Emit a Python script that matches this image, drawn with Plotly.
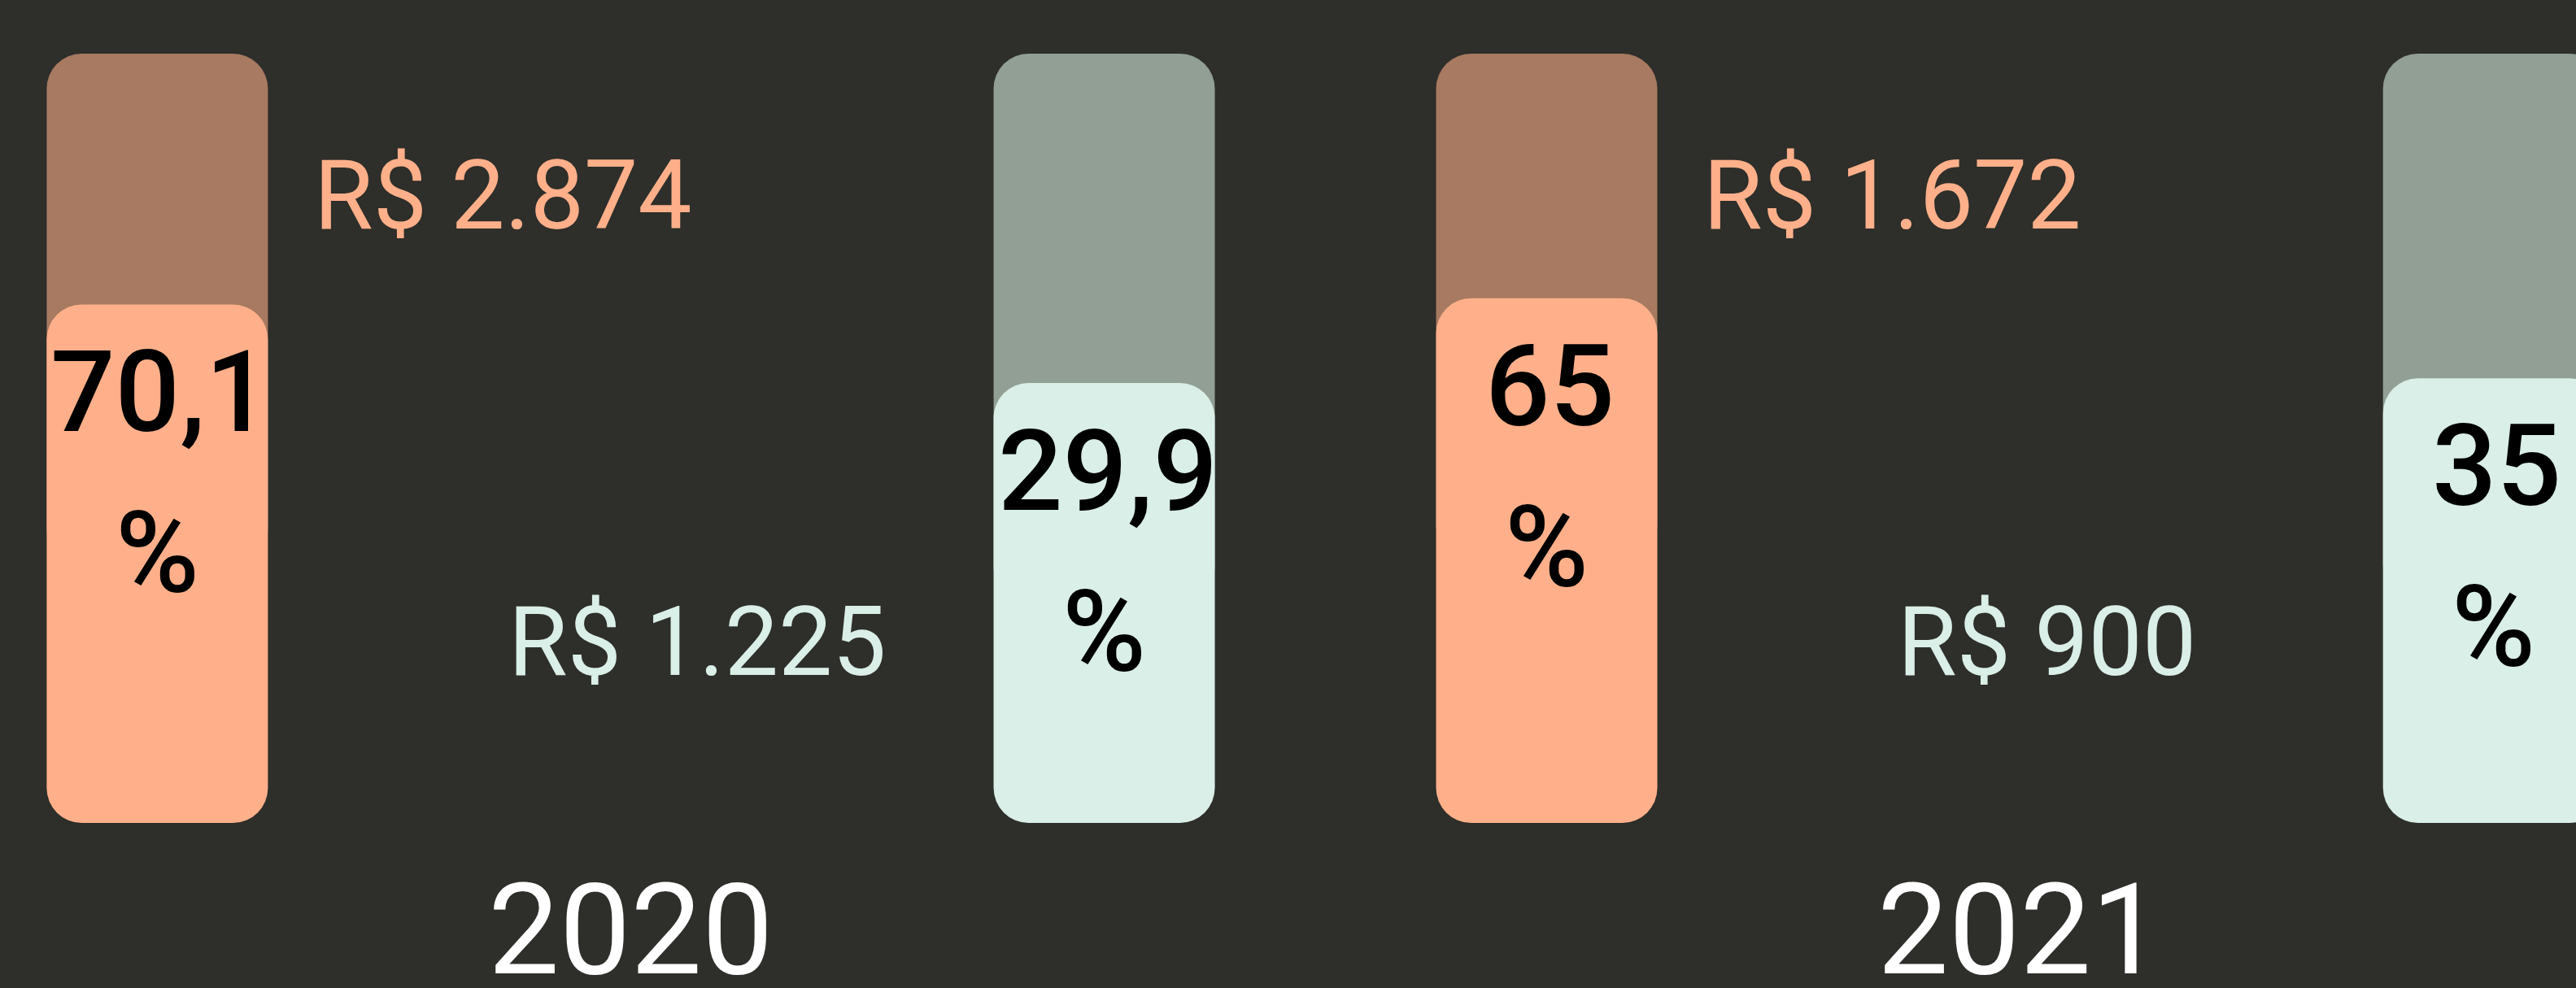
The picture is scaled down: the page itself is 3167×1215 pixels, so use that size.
import plotly.graph_objects as go

# data
years = ["2020", "2021"]
pct_orange = ["70,1", "65"]
pct_green = ["29,9", "35"]
money_orange = ["R$ 2.874", "R$ 1.672"]
money_green = ["R$ 1.225", "R$ 900"]
# filled part of each bar, on a track of 100
fill_orange = [67.4, 68.2]
fill_green = [57.2, 57.8]
track = [100, 100]

BG = "#2E2E2A"
ORANGE = "#FFB08A"
ORANGE_DARK = "#A77A61"
GREEN = "#D9EFE7"
GREEN_DARK = "#919F95"
FONT = "Roboto, Inter, sans-serif"
RADIUS = 43

# layout: x in units of one bar width
year_step = 6.28
pair_gap = 4.28
x_orange = [0.711 + year_step * i for i in range(len(years))]
x_green = [x + pair_gap for x in x_orange]


def bar_group(x, fill, dark, light):
    # the light bar sits on an explicit base, so plotly rounds both ends
    back = go.Bar(
        x=x, y=[t - f / 2 for t, f in zip(track, fill)], base=[f / 2 for f in fill],
        width=1, marker=dict(color=dark, cornerradius=RADIUS, line=dict(width=0)))
    front = go.Bar(
        x=x, y=fill, base=[0] * len(fill),
        width=1, marker=dict(color=light, cornerradius=RADIUS, line=dict(width=0)))
    return [back, front]


fig = go.Figure(bar_group(x_orange, fill_orange, ORANGE_DARK, ORANGE)
                + bar_group(x_green, fill_green, GREEN_DARK, GREEN))
fig.update_traces(hoverinfo="skip")

notes = []
for i in range(len(years)):
    for x, f, p in ((x_orange[i], fill_orange[i], pct_orange[i]),
                    (x_green[i], fill_green[i], pct_green[i])):
        notes.append(dict(x=x, y=f, text=p, yanchor="top", yshift=-24, xshift=4,
                          font=dict(family=FONT, size=140, color="#000000", weight=500)))
        notes.append(dict(x=x, y=f, text="%", yanchor="top", yshift=-222,
                          font=dict(family=FONT, size=140, color="#000000", weight=500)))
    notes.append(dict(x=x_orange[i] + 0.70, y=81.5, text=money_orange[i], xanchor="left",
                      font=dict(family=FONT, size=118, color=ORANGE, weight=400)))
    notes.append(dict(x=x_green[i] - 2.70, y=23.5, text=money_green[i], xanchor="left",
                      font=dict(family=FONT, size=118, color=GREEN, weight=400)))
    notes.append(dict(x=(x_orange[i] + x_green[i]) / 2, y=-13.9, text=years[i],
                      font=dict(family=FONT, size=156, color="#FFFFFF", weight=400)))
for n in notes:
    n.update(showarrow=False, xref="x", yref="y")

fig.update_layout(
    width=3167, height=1215,
    margin=dict(l=0, r=0, t=0, b=0),
    paper_bgcolor=BG, plot_bgcolor=BG,
    barmode="overlay", showlegend=False,
    annotations=notes,
    xaxis=dict(range=[0, 3167 / 272], visible=False, fixedrange=True),
    yaxis=dict(range=[-21.46, 106.98], visible=False, fixedrange=True),
)

fig.write_html("out.html", config={"displayModeBar": False},
               post_script="document.body.style.margin='0';")
